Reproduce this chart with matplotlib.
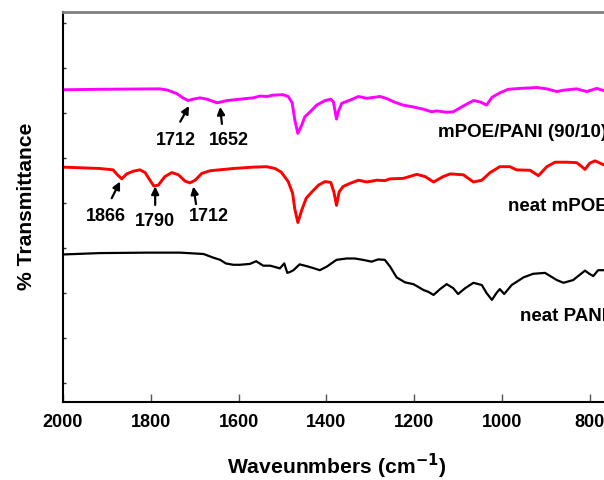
import matplotlib
matplotlib.use("Agg")
import matplotlib.pyplot as plt

plt.rcParams['font.family'] = ['Liberation Sans', 'DejaVu Sans']
plt.rcParams['font.weight'] = 'bold'
plt.rcParams['mathtext.default'] = 'bf'

# ---- data (wavenumber cm-1, offset % transmittance) ----
wn_blend = [1999, 1916, 1779, 1761, 1740, 1727, 1715, 1704, 1688, 1672, 1649, 1626, 1597, 1567,
            1551, 1535, 1522, 1499, 1487, 1478, 1472, 1465, 1456, 1449, 1437, 1422, 1403, 1390,
            1384, 1380, 1377, 1373, 1365, 1346, 1327, 1308, 1278, 1264, 1246, 1226, 1203, 1180,
            1160, 1149, 1126, 1111, 1088, 1065, 1050, 1035, 1023, 1005, 986, 959, 921, 898, 875,
            860, 830, 807, 784, 768, 750]
t_blend = [65.1, 65.2, 65.3, 65.0, 64.2, 63.3, 62.7, 63.0, 63.3, 63.0, 62.2, 62.7, 63.0, 63.3,
           63.7, 63.6, 63.9, 64.0, 63.6, 62.2, 58.4, 55.4, 57.3, 59.1, 60.2, 61.7, 62.7, 63.0,
           62.4, 60.2, 58.6, 60.2, 62.1, 62.8, 63.6, 63.2, 63.6, 63.2, 62.4, 61.7, 61.3, 60.8,
           60.2, 60.4, 60.1, 60.2, 61.5, 62.7, 62.4, 61.7, 63.4, 64.4, 65.2, 65.4, 65.6, 65.3, 64.7,
           65.0, 65.3, 64.7, 65.4, 64.9, 65.0]

wn_mpoe = [1999, 1916, 1886, 1876, 1866, 1855, 1840, 1825, 1813, 1802, 1793, 1783, 1768, 1752,
           1737, 1722, 1711, 1699, 1684, 1665, 1612, 1567, 1536, 1517, 1503, 1487, 1477, 1472,
           1465, 1456, 1446, 1433, 1418, 1403, 1390, 1383, 1377, 1371, 1362, 1346, 1327, 1308,
           1285, 1267, 1255, 1225, 1194, 1175, 1156, 1134, 1118, 1088, 1065, 1046, 1027, 1005,
           982, 967, 936, 917, 898, 879, 853, 830, 818, 811, 800, 788, 768, 750]
t_mpoe = [47.9, 47.6, 47.3, 46.2, 45.3, 46.4, 47.0, 47.3, 46.7, 45.0, 43.7, 43.9, 45.8, 46.7,
          46.2, 44.8, 44.4, 45.0, 46.5, 47.1, 47.6, 47.9, 48.0, 47.6, 46.8, 44.7, 42.1, 38.6,
          35.6, 38.4, 41.0, 42.4, 43.9, 44.7, 44.5, 42.4, 39.4, 42.4, 43.6, 44.3, 45.0, 44.6,
          45.0, 44.9, 45.3, 45.4, 46.3, 45.8, 44.6, 45.8, 46.4, 46.2, 44.6, 45.0, 46.7, 48.0,
          48.0, 47.3, 47.2, 46.0, 48.0, 49.0, 49.0, 48.9, 48.0, 47.4, 48.8, 49.3, 48.4, 48.6]

wn_pani = [1999, 1916, 1809, 1733, 1680, 1658, 1642, 1629, 1612, 1597, 1574, 1560, 1544, 1528,
           1513, 1506, 1496, 1489, 1483, 1475, 1461, 1445, 1431, 1415, 1399, 1377, 1354, 1335,
           1317, 1297, 1282, 1267, 1255, 1240, 1221, 1202, 1191, 1179, 1168, 1156, 1141, 1126,
           1111, 1100, 1084, 1065, 1046, 1035, 1023, 1012, 1005, 995, 978, 951, 929, 902, 875,
           860, 838, 811, 801, 792, 781, 768, 750]
t_pani = [28.5, 28.8, 28.9, 28.9, 28.6, 27.8, 27.3, 26.5, 26.2, 26.2, 26.4, 27.0, 26.0, 26.0,
          25.6, 25.4, 26.5, 24.4, 24.6, 25.0, 26.3, 25.9, 25.5, 25.0, 25.8, 27.3, 27.6, 27.6,
          27.3, 26.9, 27.4, 27.3, 25.8, 23.4, 22.3, 21.9, 21.3, 20.6, 20.2, 19.5, 20.8, 21.9,
          21.0, 19.7, 21.0, 22.2, 21.7, 19.9, 18.4, 20.0, 20.8, 19.7, 21.7, 23.4, 24.2, 24.4, 22.8,
          22.2, 22.8, 24.9, 24.2, 23.7, 25.0, 25.0, 25.0]

# peak annotations: label, label position, arrow tail, arrow tip
peak_labels = ["1712", "1652", "1866", "1790", "1712"]
label_pos = [(1743, 53.9), (1622, 53.9), (1903, 36.9), (1790, 35.8), (1667, 36.9)]
arrow_tail = [(1733, 58.0), (1638, 57.5), (1889, 41.0), (1790, 39.5), (1697, 39.7)]
arrow_tip = [(1713, 61.5), (1642, 61.3), (1870, 44.7), (1790, 43.6), (1703, 43.6)]

series_names = ["mPOE/PANI (90/10)", "neat mPOE", "neat PANI"]
series_label_pos = [(1146, 55.5), (986, 39.1), (959, 14.7)]

fig = plt.figure(figsize=(6.04, 4.80), dpi=100)
ax = fig.add_axes([63 / 604, (480 - 402.3) / 480, 570.7 / 604, 390.3 / 480])

ax.plot(wn_blend, t_blend, color='#FF00FF', lw=2.1)
ax.plot(wn_mpoe, t_mpoe, color='#FF0000', lw=2.1)
ax.plot(wn_pani, t_pani, color='black', lw=1.6)

for lab, lp, tail, tip in zip(peak_labels, label_pos, arrow_tail, arrow_tip):
    ax.annotate('', xy=tip, xytext=tail,
                arrowprops=dict(arrowstyle='-|>', color='black', lw=1.6,
                                mutation_scale=11, shrinkA=0, shrinkB=0))
    ax.text(lp[0], lp[1], lab, ha='center', va='center', fontsize=13, fontweight='bold')

for name, pos in zip(series_names, series_label_pos):
    ax.text(pos[0], pos[1], name, ha='left', va='center', fontsize=13.5, fontweight='bold')

ax.set_xlim(2000, 700)
ax.set_ylim(-4.36, 82.38)
ax.set_xticks([2000, 1800, 1600, 1400, 1200, 1000, 800])
ax.set_yticks(range(0, 81, 10))
ax.set_yticklabels([])
ax.tick_params(axis='x', direction='in', length=6, width=1, color='#555555',
               labelsize=13, pad=8.5)
ax.tick_params(axis='y', direction='in', length=2, width=1, color='#333333')
for lbl in ax.get_xticklabels():
    lbl.set_fontweight('bold')

ax.spines['top'].set_color('#808080')
ax.spines['top'].set_linewidth(2)
ax.spines['left'].set_linewidth(1.5)
ax.spines['bottom'].set_linewidth(1.5)
ax.spines['right'].set_visible(False)

ax.set_xlabel('Waveunmbers (cm$^{-1}$)', fontsize=15.2, fontweight='bold')
ax.set_ylabel('% Transmittance', fontsize=15.2, fontweight='bold')
ax.xaxis.set_label_coords(0.479, -0.128)
ax.yaxis.set_label_coords(-0.048, 0.502)

fig.savefig('out.png', dpi=100)
